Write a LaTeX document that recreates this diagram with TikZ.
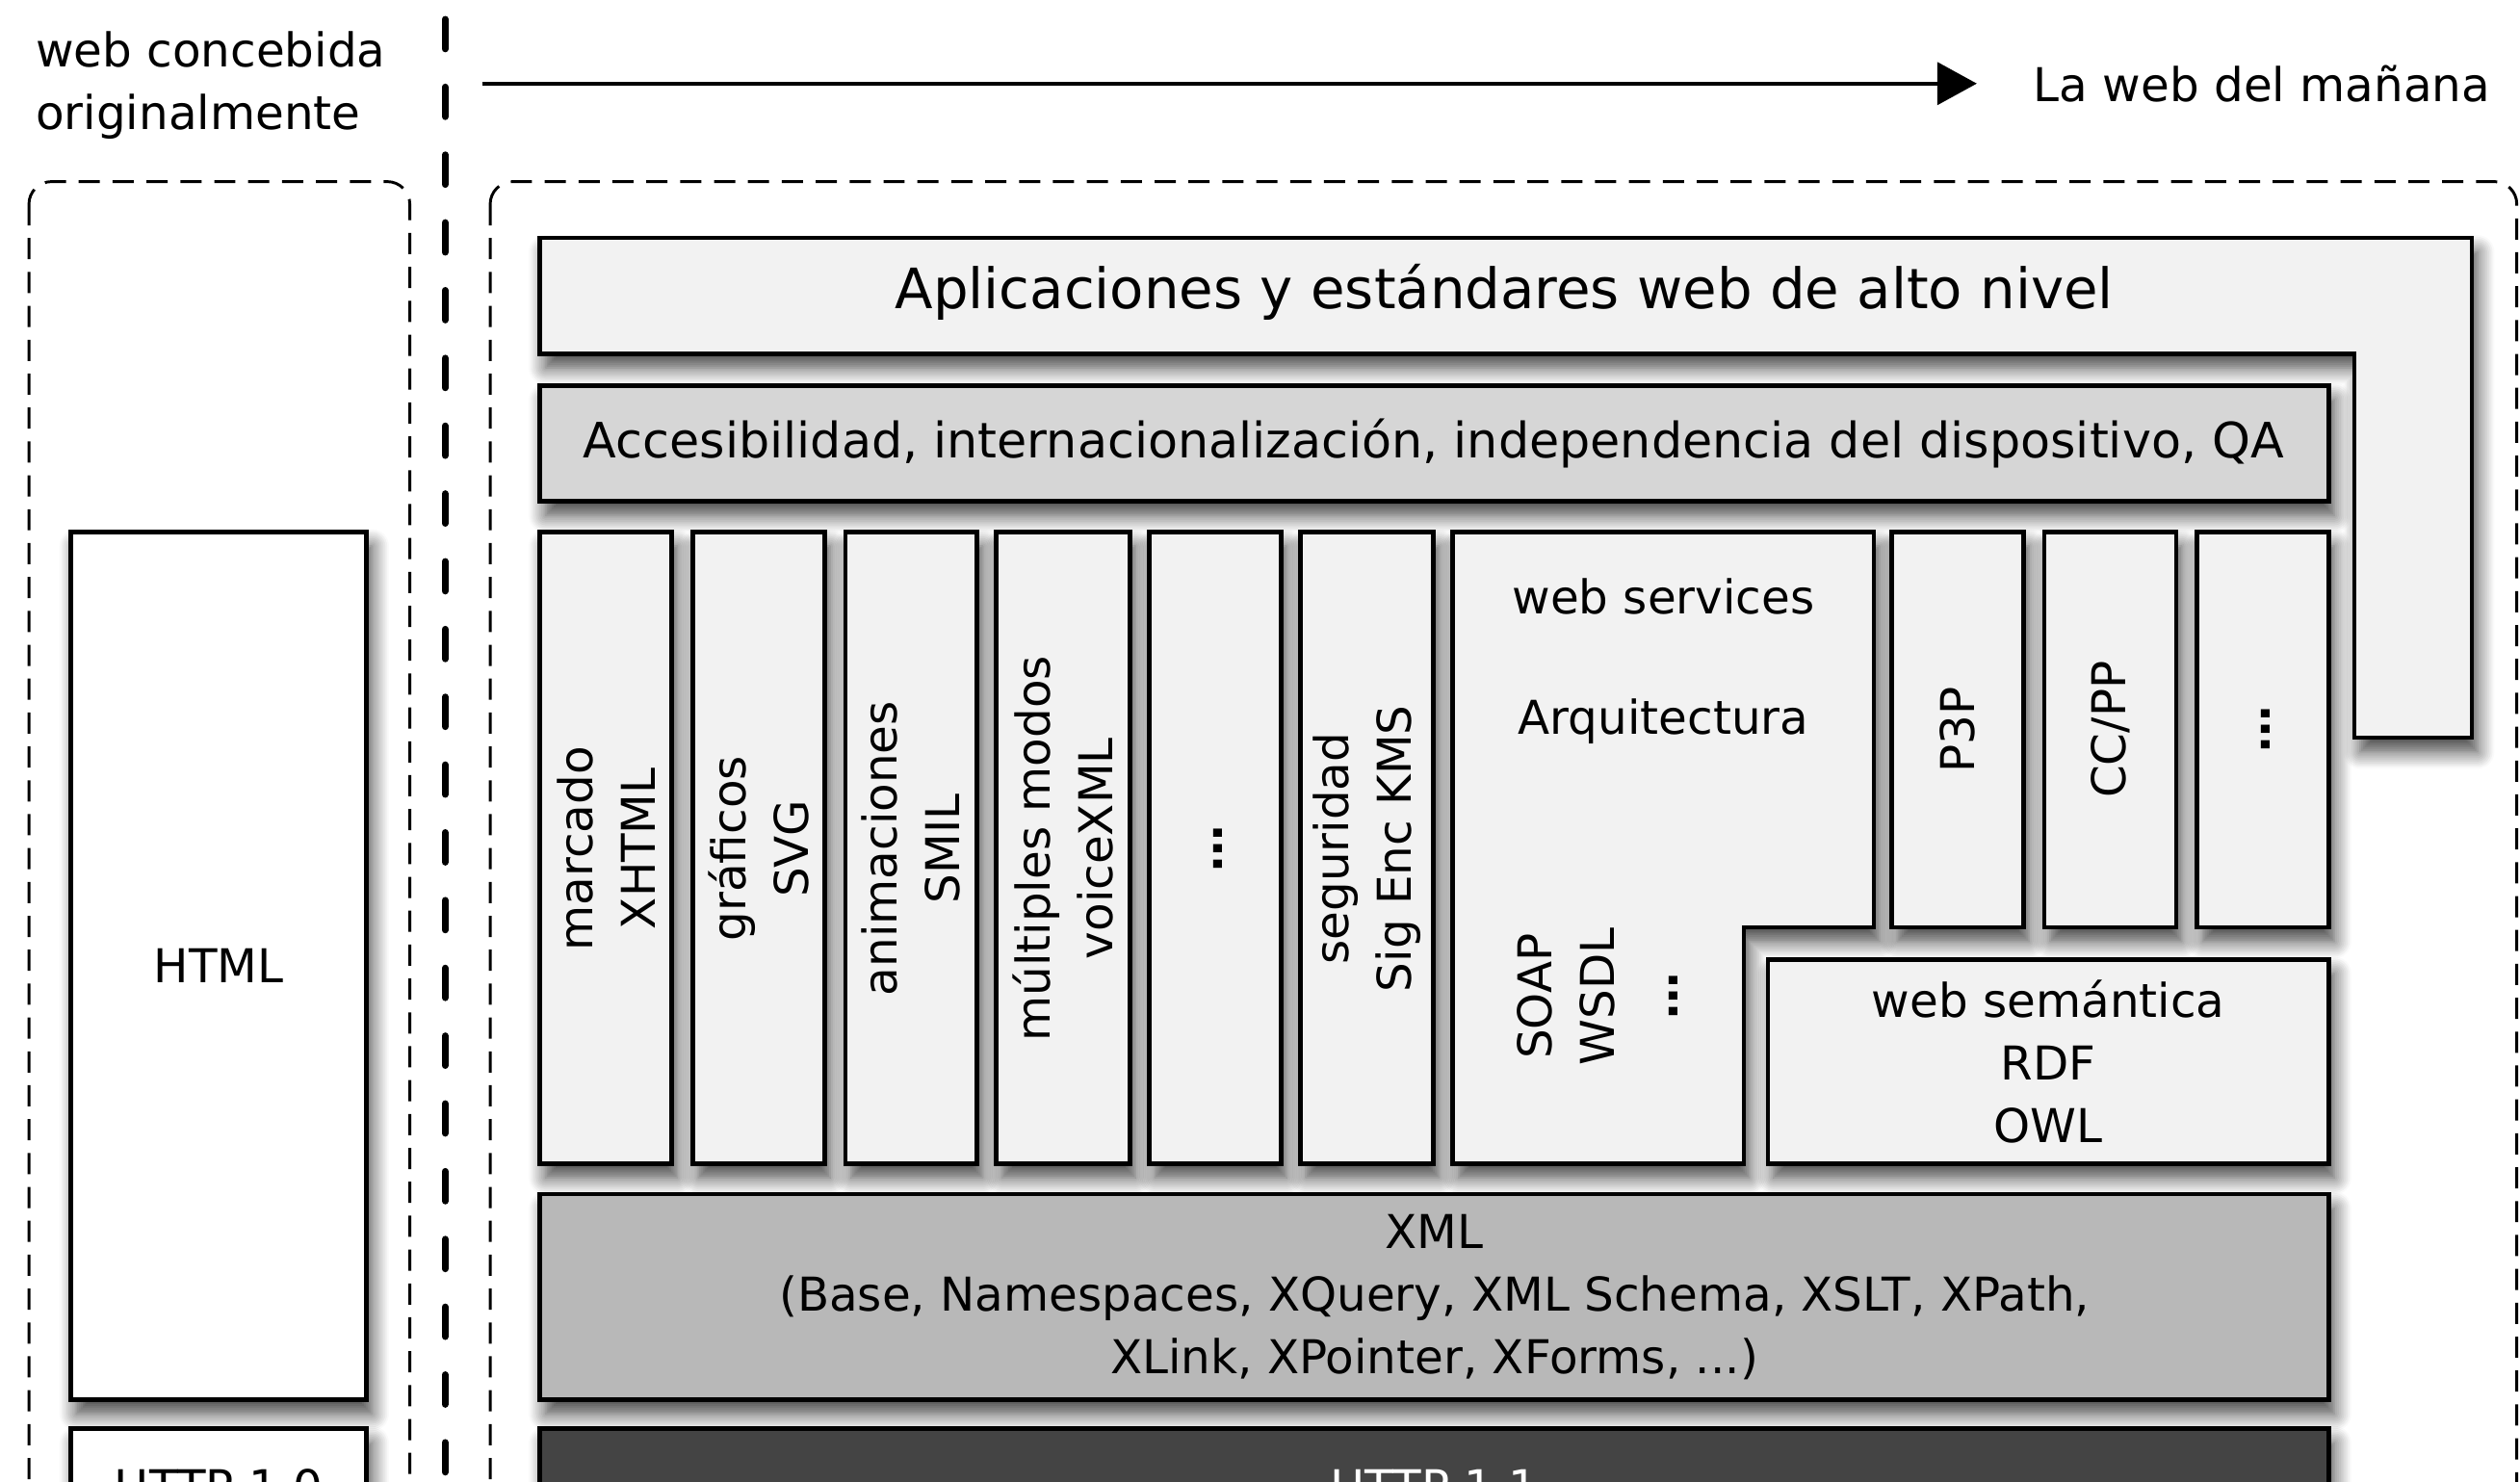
\documentclass[tikz,border=0pt]{standalone}
\usepackage{fontspec}
\setmainfont{DejaVu Sans}
\usetikzlibrary{arrows.meta}
\usetikzlibrary{shadows.blur}
\definecolor{capaclara}{HTML}{F2F2F2}
\definecolor{capamedia}{HTML}{D6D6D6}
\definecolor{capaxml}{HTML}{B8B8B8}
\definecolor{capahttp}{HTML}{444444}

\tikzset{
  capa/.style={draw=black, line width=1.6pt,
    blur shadow={shadow xshift=2pt, shadow yshift=-5pt, shadow blur radius=6pt, shadow blur steps=10, shadow opacity=75}},
  texto/.style={font=\fontsize{16.5}{22.2}\selectfont, align=center, inner sep=0pt},
  vertical/.style={texto, rotate=90},
  zona/.style={dash pattern=on 7.5pt off 4.5pt, line width=1pt, rounded corners=8pt}
}

\begin{document}
\begin{tikzpicture}[x=0.02cm,y=-0.02cm]
\useasboundingbox (0,0) rectangle (1568,922);
\clip (0,0) rectangle (1568,922);

% zonas
\draw [zona] (18,113) rectangle (255,1000);
\draw [zona] (305,113) rectangle (1566,1000);
\draw [line width=2.4pt, dash pattern=on 10.5pt off 13.5pt, line cap=round] (277,12) -- (277,1000);

\node [texto, align=left, anchor=west] (original) at (22,53) {web concebida\\originalmente};
\node [texto, anchor=west] (manana) at (1265,52) {La web del mañana};
\coordinate (inicio) at (300,52);
\draw [line width=1.3pt, -{Triangle[length=14pt,width=15pt]}, shorten >=0.7cm] (inicio) -- (manana);

% web original
\draw [capa, fill=white] (44,331) rectangle (228,871);
\node [texto] (html) at (136,601) {HTML};
\draw [capa, fill=white] (44,889) rectangle (228,961);
\node [texto] (http10) at (136,925) {HTTP 1.0};

% web del mañana
\draw [capa, fill=capaclara] (336,148) -- (1538,148) -- (1538,459) -- (1465,459) -- (1465,220) -- (336,220) -- cycle;
\node [texto, font=\fontsize{19.7}{24}\selectfont] (aplicaciones) at (936,182) {Aplicaciones y estándares web de alto nivel};

\draw [capa, fill=capamedia] (336,240) rectangle (1449,312);
\node [texto, font=\fontsize{17.3}{22}\selectfont] (accesibilidad) at (892,276) {Accesibilidad, internacionalización, independencia del dispositivo, QA};

\draw [capa, fill=capaclara] (336,331) rectangle (418,724);
\node [vertical] (marcado) at (377,528) {marcado\\XHTML};
\draw [capa, fill=capaclara] (431,331) rectangle (513,724);
\node [vertical] (graficos) at (472,528) {gráficos\\SVG};
\draw [capa, fill=capaclara] (526,331) rectangle (608,724);
\node [vertical] (animaciones) at (567,528) {animaciones\\SMIL};
\draw [capa, fill=capaclara] (620,331) rectangle (703,724);
\node [vertical] (modos) at (661.5,528) {múltiples modos\\voiceXML};
\draw [capa, fill=capaclara] (715,331) rectangle (797,724);
\node [vertical] (otros) at (758,528) {\textbf{…}};
\draw [capa, fill=capaclara] (809,331) rectangle (892,724);
\node [vertical] (seguridad) at (850.5,528) {seguridad\\Sig Enc KMS};

\draw [capa, fill=capaclara] (904,331) -- (1166,331) -- (1166,577) -- (1085,577) -- (1085,724) -- (904,724) -- cycle;
\node [texto] (servicios) at (1035,371) {web services};
\node [texto] (arquitectura) at (1035,449) {Arquitectura};
\node [vertical] (soap) at (994,620) {SOAP\\WSDL\\\textbf{…}};

\draw [capa, fill=capaclara] (1177,331) rectangle (1259,577);
\node [vertical] (ppp) at (1218,454) {P3P};
\draw [capa, fill=capaclara] (1272,331) rectangle (1354,577);
\node [vertical] (ccpp) at (1313,454) {CC/PP};
\draw [capa, fill=capaclara] (1367,331) rectangle (1449,577);
\node [vertical] (mas) at (1410,454) {\textbf{…}};

\draw [capa, fill=capaclara] (1100,597) rectangle (1449,724);
\node [texto] (semantica) at (1274.5,660.5) {web semántica\\RDF\\OWL};

\draw [capa, fill=capaxml] (336,743) rectangle (1449,871);
\node [texto] (xml) at (892.5,807) {XML\\(Base, Namespaces, XQuery, XML Schema, XSLT, XPath,\\XLink, XPointer, XForms, ...)};

\draw [capa, fill=capahttp] (336,889) rectangle (1449,961);
\node [texto, text=white] (http11) at (892.5,925) {HTTP 1.1};

\end{tikzpicture}
\end{document}
